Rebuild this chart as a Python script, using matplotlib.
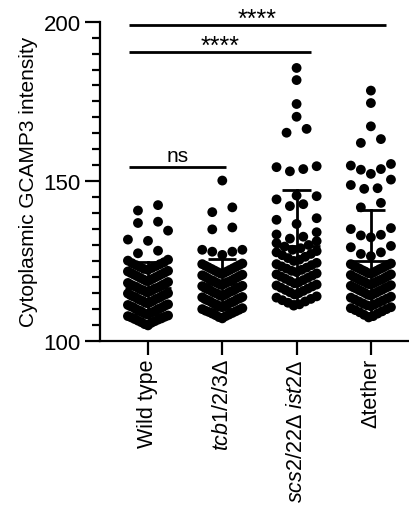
import numpy as np
import matplotlib.pyplot as plt
from matplotlib.ticker import MultipleLocator

plt.rcParams["font.family"] = ["Liberation Sans", "DejaVu Sans"]
plt.rcParams["mathtext.fontset"] = "custom"
plt.rcParams["mathtext.rm"] = "Liberation Sans"
plt.rcParams["mathtext.it"] = "Liberation Sans:italic"

# values (GCAMP3 intensity per cell)
wild_type = [104.8, 105.2, 105.6, 105.8, 106.1, 106.3, 106.6, 106.8, 107.0, 107.3, 107.5, 107.7, 107.9,
             108.2, 108.4, 108.7, 108.8, 109.0, 109.3, 109.4, 109.6, 109.9, 110.0, 110.2, 110.5, 110.6, 110.8, 111.1, 111.2, 111.4,
             111.7, 111.9, 112.1, 112.4, 112.5, 112.7, 113.0, 113.1, 113.3, 113.6, 113.7, 113.9, 114.2, 114.3, 114.5, 114.8, 114.9,
             115.2, 115.4, 115.7, 115.8, 116.0, 116.3, 116.4, 116.6, 116.9, 117.0, 117.2, 117.5, 117.6, 117.9, 118.1, 118.4,
             118.7, 118.9, 119.2, 119.4, 119.7, 119.9, 120.2, 120.4, 120.7, 120.9, 121.2, 121.4, 121.7, 121.9,
             122.2, 122.5, 122.8, 123.1, 123.4, 123.7, 124.0, 124.3, 124.6, 125.1, 125.4,
             127.4, 128.2, 131.3, 131.7, 134.5, 136.9, 137.3, 140.8, 142.5]

tcb = [107.0, 107.4, 107.7, 108.0, 108.2, 108.5, 108.7, 109.0, 109.2, 109.4, 109.7, 109.9, 110.2,
       110.5, 110.7, 110.9, 111.2, 111.3, 111.5, 111.8, 111.9, 112.1, 112.4, 112.5, 112.7, 113.0, 113.1, 113.3, 113.6, 113.7,
       114.0, 114.2, 114.4, 114.7, 114.8, 115.0, 115.3, 115.4, 115.6, 115.9, 116.0, 116.2, 116.5, 116.6, 116.8, 117.1, 117.2,
       117.5, 117.7, 117.9, 118.2, 118.3, 118.5, 118.8, 118.9, 119.1, 119.4, 119.6, 119.8, 120.1, 120.3, 120.5, 120.7,
       121.0, 121.2, 121.5, 121.7, 122.0, 122.2, 122.5, 122.7, 123.0, 123.2, 123.5, 123.7, 124.0, 124.2,
       126.9, 127.9, 127.9, 128.5, 128.5, 134.9, 135.5, 140.3, 141.8, 150.2]

scs2_ist2 = [111.0, 111.4, 111.9, 112.3, 112.7, 113.1, 113.5, 113.9,
             114.5, 114.9, 115.2, 115.6, 115.9, 116.3, 116.6, 117.0, 117.3, 117.6,
             118.0, 118.3, 118.7, 119.0, 119.4, 119.7, 120.1, 120.4, 120.8, 121.1,
             121.5, 121.9, 122.2, 122.6, 122.9, 123.3, 123.7, 124.0, 124.4,
             125.0, 125.4, 125.9, 126.3, 126.8, 127.2, 127.7, 128.1,
             128.5, 129.0, 129.5, 130.0, 130.6, 131.2,
             132.0, 132.6, 133.3, 134.0,
             136.6, 137.9, 138.4, 142.2, 142.8, 144.3, 145.3, 145.5,
             153.1, 153.8, 154.4, 154.7, 165.2, 166.4, 170.2, 174.2, 181.7, 185.5]

tether = [107.3, 107.7, 108.1, 108.5, 108.9, 109.2, 109.6, 109.9, 110.2, 110.5,
          110.8, 111.1, 111.4, 111.7, 112.0, 112.3, 112.6, 112.9, 113.2, 113.5, 113.8,
          114.2, 114.4, 114.7, 114.9, 115.1, 115.4, 115.6, 115.8, 116.0, 116.3, 116.5, 116.7, 116.9, 117.2, 117.4,
          117.6, 117.8, 118.0, 118.3, 118.5, 118.7, 118.9, 119.1, 119.3, 119.6, 119.8, 120.0, 120.3, 120.6, 120.8,
          121.0, 121.2, 121.4, 121.7, 121.9, 122.1, 122.4, 122.6, 122.8, 123.0, 123.3, 123.5, 123.8, 124.0, 124.2,
          126.5, 127.2, 127.7, 129.3, 129.7, 132.4, 133.0, 133.2, 135.0, 135.3,
          141.8, 143.2, 147.6, 147.8, 148.8, 150.5, 152.3, 153.6, 153.8, 154.9, 155.4,
          162.0, 163.2, 167.2, 174.5, 178.4]

groups = [wild_type, tcb, scs2_ist2, tether]
labels = ["Wild type", r"$\mathit{tcb1/2/3}$Δ", r"$\mathit{scs2/22}$Δ $\mathit{ist2}$Δ", "Δtether"]

# significance bars: (x start, x end, y, text)
sig_bars = [(-0.26, 3.2, 199.0, "****"), (-0.26, 2.19, 190.6, "****"), (-0.26, 1.05, 154.3, "ns")]


def swarm_offsets(vals, row_h=3.3, half_w=0.27):
    # prism-like rows: lowest value in the middle, higher ones spread outwards
    vals = np.asarray(vals, dtype=float)
    order = np.argsort(vals, kind="stable")
    v = vals[order]
    offs = np.zeros(len(v))
    i = 0
    while i < len(v):
        j = i
        while j < len(v) and v[j] < v[i] + row_h:
            j += 1
        n = j - i
        step = half_w if n < 3 else min(half_w, 2 * half_w / (n - 1))
        slots = (np.arange(n) - (n - 1) / 2) * step
        slots = sorted(slots, key=lambda s: (round(abs(s), 6), s))
        offs[i:j] = slots
        i = j
    out = np.zeros(len(v))
    out[order] = offs
    return out


fig = plt.figure(figsize=(4.09, 5.10), dpi=100)
ax = fig.add_axes([0.2445, 0.330, 0.7555, 0.6255])

for k, vals in enumerate(groups):
    x = k + swarm_offsets(vals)
    ax.scatter(x, vals, s=50, color="black", edgecolors="none", zorder=2, clip_on=False)
    m = np.mean(vals)
    sd = np.std(vals, ddof=1)
    ax.plot([k - 0.31, k + 0.31], [m, m], color="black", lw=2.0, zorder=3, solid_capstyle="butt")
    ax.plot([k, k], [m - sd, m + sd], color="black", lw=2.0, zorder=3)
    for yy in (m - sd, m + sd):
        ax.plot([k - 0.19, k + 0.19], [yy, yy], color="black", lw=2.0, zorder=3, solid_capstyle="butt")

for x0, x1, y, txt in sig_bars:
    ax.plot([x0, x1], [y, y], color="black", lw=2.0, clip_on=False, solid_capstyle="butt")
    if txt == "ns":
        ax.text((x0 + x1) / 2, y + 2.0, txt, ha="center", va="baseline", fontsize=15)
    else:
        ax.text((x0 + x1) / 2, y - 0.3, txt, ha="center", va="baseline", fontsize=18)

ax.set_xlim(-0.646, 3.513)
ax.set_ylim(100, 200)
ax.spines["top"].set_visible(False)
ax.spines["right"].set_visible(False)
for sp in ("left", "bottom"):
    ax.spines[sp].set_linewidth(1.6)

ax.set_xticks(range(len(labels)))
ax.set_xticklabels(labels, rotation=90, fontsize=15.5)
ax.set_yticks([100, 150, 200])
ax.yaxis.set_minor_locator(MultipleLocator(5))
ax.tick_params(axis="x", which="major", length=10, width=1.6, labelsize=15.5, pad=2.5)
ax.tick_params(axis="y", which="major", length=11, width=1.6, labelsize=16, pad=3)
ax.tick_params(axis="y", which="minor", length=5.5, width=1.6)
ax.set_ylabel("Cytoplasmic GCAMP3 intensity", fontsize=15, labelpad=4)

fig.savefig("out.png", dpi=100)
